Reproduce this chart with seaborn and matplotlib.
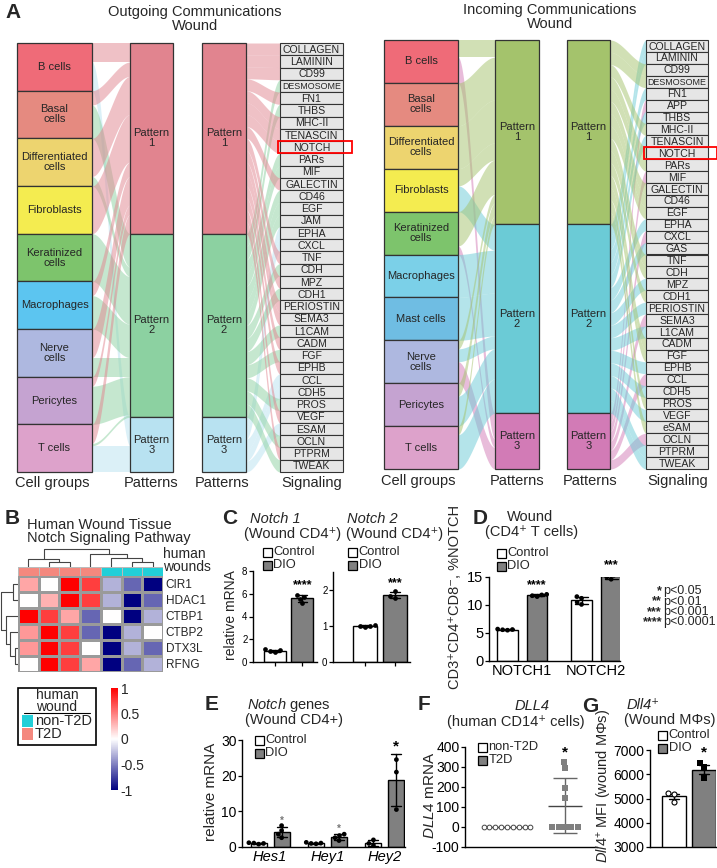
import numpy as np
import pandas as pd
import matplotlib
matplotlib.use("Agg")
import matplotlib.pyplot as plt
import seaborn as sns
from matplotlib.colors import LinearSegmentedColormap, ListedColormap
from matplotlib.patches import Rectangle

# -----------------------------------------
# Panel A data (CellChat river plots)
# -----------------------------------------
out_cells = ["B cells", "Basal\ncells", "Differentiated\ncells", "Fibroblasts",
             "Keratinized\ncells", "Macrophages", "Nerve\ncells", "Pericytes", "T cells"]
out_cell_colors = ["#EF6B78", "#E58A80", "#EDD46F", "#F4EC50", "#7DC46C",
                   "#5CC5F0", "#AEB8E0", "#C5A3D1", "#DDA2CB"]
out_pattern_colors = ["#E1848F", "#8CD1A1", "#B8E2F1"]
# share of each cell group sent to pattern 1, 2, 3
out_cell_to_pattern = [
    [0.4, 0.0, 0.6],
    [0.3, 0.7, 0.0],
    [0.8, 0.2, 0.0],
    [1.0, 0.0, 0.0],
    [0.0, 1.0, 0.0],
    [0.3, 0.7, 0.0],
    [0.6, 0.4, 0.0],
    [0.2, 0.8, 0.0],
    [0.4, 0.05, 0.55],
]
out_signals = ["COLLAGEN", "LAMININ", "CD99", "DESMOSOME", "FN1", "THBS", "MHC-II",
               "TENASCIN", "NOTCH", "PARs", "MIF", "GALECTIN", "CD46", "EGF", "JAM",
               "EPHA", "CXCL", "TNF", "CDH", "MPZ", "CDH1", "PERIOSTIN", "SEMA3",
               "L1CAM", "CADM", "FGF", "EPHB", "CCL", "CDH5", "PROS", "VEGF", "ESAM",
               "OCLN", "PTPRM", "TWEAK"]
out_signal_pattern = [1, 1, 1, 2, 1, 2, 1, 1, 1, 2, 2, 1, 2, 2, 2, 3, 3, 1, 2, 1,
                      2, 1, 1, 2, 1, 2, 1, 3, 3, 2, 1, 3, 2, 1, 2]

in_cells = ["B cells", "Basal\ncells", "Differentiated\ncells", "Fibroblasts",
            "Keratinized\ncells", "Macrophages", "Mast cells", "Nerve\ncells",
            "Pericytes", "T cells"]
in_cell_colors = ["#EF6B78", "#E58A80", "#EDD46F", "#F4EC50", "#7DC46C",
                  "#7BD0E8", "#6FBDE3", "#AEB8E0", "#C5A3D1", "#DDA2CB"]
in_pattern_colors = ["#A4C36C", "#6BCBD6", "#D27BB6"]
in_cell_to_pattern = [
    [0.4, 0.0, 0.6],
    [1.0, 0.0, 0.0],
    [1.0, 0.0, 0.0],
    [0.4, 0.6, 0.0],
    [0.8, 0.0, 0.2],
    [0.0, 1.0, 0.0],
    [0.0, 1.0, 0.0],
    [0.2, 0.3, 0.5],
    [0.3, 0.7, 0.0],
    [0.2, 0.8, 0.0],
]
in_signals = ["COLLAGEN", "LAMININ", "CD99", "DESMOSOME", "FN1", "APP", "THBS",
              "MHC-II", "TENASCIN", "NOTCH", "PARs", "MIF", "GALECTIN", "CD46", "EGF",
              "EPHA", "CXCL", "GAS", "TNF", "CDH", "MPZ", "CDH1", "PERIOSTIN", "SEMA3",
              "L1CAM", "CADM", "FGF", "EPHB", "CCL", "CDH5", "PROS", "VEGF", "eSAM",
              "OCLN", "PTPRM", "TWEAK"]
in_signal_pattern = [2, 2, 1, 1, 2, 3, 2, 1, 2, 1, 1, 3, 1, 1, 1, 2, 3, 2, 1, 1,
                     2, 1, 2, 3, 2, 1, 1, 2, 3, 2, 1, 2, 1, 3, 2, 2]

# -----------------------------------------
# Panel B data (heatmap)
# -----------------------------------------
hm_genes = ["CIR1", "HDAC1", "CTBP1", "CTBP2", "DTX3L", "RFNG"]
hm_groups = ["T2D", "T2D", "T2D", "T2D", "non-T2D", "non-T2D", "non-T2D"]
hm_values = [
    [0.35, 0.0, 1.0, 0.75, -0.3, -0.6, -1.0],
    [0.0, 0.3, 1.0, 0.75, -0.3, -1.0, -0.6],
    [1.0, 0.75, 0.35, -0.6, 0.0, -1.0, -0.3],
    [0.4, 1.0, 0.75, -0.6, -1.0, -0.3, 0.0],
    [0.4, 1.0, 0.75, 0.0, -1.0, -0.3, -0.6],
    [0.0, 1.0, 0.75, 0.35, -1.0, -0.6, -0.3],
]
cbar_ticks = [1, 0.5, 0, -0.5, -1]
cbar_labels = ["1", "0.5", "0", "-0.5", "-1"]
# linkage: (child a, child b, height) ; new node ids start after leaves
col_merges = [(1, 2, 5), (5, 6, 5), (0, 7, 8), (4, 8, 9), (3, 10, 13), (9, 11, 18)]
row_merges = [(0, 1, 5), (4, 5, 3), (3, 7, 7), (2, 8, 11), (6, 9, 16)]

# -----------------------------------------
# Panels C-G data
# -----------------------------------------
groups = ["Control", "DIO"]
notch1_ctrl = [0.9, 0.97, 1.03, 1.1]
notch1_dio = [5.2, 5.55, 5.75, 5.9]
notch2_ctrl = [0.96, 0.99, 1.01, 1.03]
notch2_dio = [1.79, 1.83, 1.96]

d_genes = ["NOTCH1", "NOTCH2"]
notch1_pct_ctrl = [5.5, 5.58, 5.62, 5.7]
notch1_pct_dio = [11.5, 11.65, 11.8, 11.9]
notch2_pct_ctrl = [10.1, 10.5, 11.2, 11.5]
notch2_pct_dio = [14.6, 15.0, 15.3, 15.5]

e_genes = ["Hes1", "Hey1", "Hey2"]
hes1_ctrl = [0.8, 1.0, 1.1, 1.2]
hes1_dio = [2.6, 3.6, 4.6, 6.0]
hey1_ctrl = [0.9, 1.1, 1.3, 1.0]
hey1_dio = [1.8, 2.6, 3.2, 3.6]
hey2_ctrl = [0.5, 1.0, 2.0]
hey2_dio = [24.5, 21.0, 10.5]

f_groups = ["non-T2D", "T2D"]
dll4_nont2d = [0, 0, 0, 0, 0, 0, 0, 0, 0]
dll4_t2d = [0, 0, 0, 0, 0, 145, 195, 295, 325]

dll4_mfi_ctrl = [5180, 5210, 4870]
dll4_mfi_dio = [6450, 6280, 5830]

bar_pal = {"Control": "white", "DIO": "#808080", "non-T2D": "white", "T2D": "#808080"}

# -----------------------------------------
# Style
# -----------------------------------------
sns.set_style("ticks")
plt.rcParams["font.family"] = ["Liberation Sans", "DejaVu Sans"]
plt.rcParams["mathtext.fontset"] = "custom"
plt.rcParams["mathtext.rm"] = "Liberation Sans"
plt.rcParams["mathtext.it"] = "Liberation Sans:italic"
plt.rcParams["axes.unicode_minus"] = False

W, H = 717, 868
fig = plt.figure(figsize=(W / 100, H / 100), dpi=100)


def add_ax(x0, y0, x1, y1):
    ax = fig.add_axes([x0 / W, 1 - y1 / H, (x1 - x0) / W, (y1 - y0) / H])
    ax.patch.set_alpha(0)
    return ax


ov = fig.add_axes([0, 0, 1, 1], zorder=10)
ov.set_xlim(0, W)
ov.set_ylim(H, 0)
ov.axis("off")


def txt(x, y, s, fs=10.5, **kw):
    ov.text(x, y, s, fontsize=fs, va="center", **kw)


# -----------------------------------------
# Panel A
# -----------------------------------------
def band(x0, x1, a0, a1, b0, b1, color):
    t = np.linspace(0, 1, 50)
    s = t * t * (3 - 2 * t)
    ov.fill_between(x0 + (x1 - x0) * t, a0 + (b0 - a0) * s, a1 + (b1 - a1) * s,
                    color=color, alpha=0.5, lw=0, zorder=1)


def sankey(cells, cell_colors, shares, pat_colors, signals, sig_pat, xs, y0, y1):
    cx0, cx1, px0, px1, qx0, qx1, sx0, sx1 = xs
    shares = np.array(shares, float)
    n = len(cells)
    span = y1 - y0
    ch = span / n
    tot = shares.sum(axis=0)
    ph = tot / tot.sum() * span
    ptop = y0 + np.concatenate([[0], np.cumsum(ph)[:-1]])
    fill = ptop.copy()
    for i in range(n):
        y = y0 + i * ch
        for j in range(3):
            h = ch * shares[i, j]
            if h <= 0:
                continue
            band(cx1, px0, y, y + h, fill[j], fill[j] + h, pat_colors[j])
            y += h
            fill[j] += h
    sp = np.array(sig_pat) - 1
    counts = np.bincount(sp, minlength=3)
    sh = span / len(signals)
    fill = ptop.copy()
    for k, j in enumerate(sp):
        h = ph[j] / counts[j]
        band(qx1, sx0, fill[j], fill[j] + h, y0 + k * sh, y0 + (k + 1) * sh, pat_colors[j])
        fill[j] += h
    for i, (name, col) in enumerate(zip(cells, cell_colors)):
        ov.add_patch(Rectangle((cx0, y0 + i * ch), cx1 - cx0, ch, fc=col, ec="#333333", lw=0.9, zorder=2))
        ov.text((cx0 + cx1) / 2, y0 + (i + 0.5) * ch, name, ha="center", va="center",
                fontsize=8, linespacing=1.0, zorder=3)
    for bx0, bx1 in [(px0, px1), (qx0, qx1)]:
        for j in range(3):
            ov.add_patch(Rectangle((bx0, ptop[j]), bx1 - bx0, ph[j], fc=pat_colors[j],
                                   ec="#333333", lw=0.9, zorder=2))
            ov.text((bx0 + bx1) / 2, ptop[j] + ph[j] / 2, f"Pattern\n{j + 1}", ha="center",
                    va="center", fontsize=8, linespacing=1.0, zorder=3)
    for k, name in enumerate(signals):
        ov.add_patch(Rectangle((sx0, y0 + k * sh), sx1 - sx0, sh, fc="#E6E6E6",
                               ec="#333333", lw=0.8, zorder=2))
        fs = 6.4 if name == "DESMOSOME" else 7.6
        ov.text((sx0 + sx1) / 2, y0 + (k + 0.55) * sh, name, ha="center", va="center",
                fontsize=fs, zorder=3)
        if name == "NOTCH":
            ov.add_patch(Rectangle((sx0 - 2, y0 + k * sh), sx1 - sx0 + 11, sh, fc="none",
                                   ec="red", lw=1.3, zorder=4))


sankey(out_cells, out_cell_colors, out_cell_to_pattern, out_pattern_colors,
       out_signals, out_signal_pattern, (17, 92, 130, 173, 202, 246, 280, 343), 43, 472)
sankey(in_cells, in_cell_colors, in_cell_to_pattern, in_pattern_colors,
       in_signals, in_signal_pattern, (384, 458, 495, 539, 567, 610, 646, 708), 40, 469)

txt(5, 12, "A", fs=15, fontweight="heavy")
ov.text(195, 5, "Outgoing Communications\nWound", ha="center", va="top", fontsize=10.5, linespacing=1.0)
ov.text(550, 3, "Incoming Communications\nWound", ha="center", va="top", fontsize=10.5, linespacing=1.0)
for x, s in zip([52, 151, 222, 312], ["Cell groups", "Patterns", "Patterns", "Signaling"]):
    txt(x, 483, s, ha="center")
for x, s in zip([418, 517, 590, 678], ["Cell groups", "Patterns", "Patterns", "Signaling"]):
    txt(x, 481, s, ha="center")

# -----------------------------------------
# Panel B
# -----------------------------------------
txt(5, 519, "B", fs=15, fontweight="heavy")
txt(27, 525, "Human Wound Tissue")
txt(27, 538, "Notch Signaling Pathway")
txt(163, 554, "human", fs=10)
txt(163, 567, "wounds", fs=10)

cmap = LinearSegmentedColormap.from_list("bwr2", ["#000080", "#FFFFFF", "#FF0000"])
ax_hm = add_ax(18, 576, 163, 672)
cax = add_ax(111, 688, 118, 790)
sns.heatmap(pd.DataFrame(hm_values, index=hm_genes), cmap=cmap, vmin=-1, vmax=1,
            linewidths=0.8, linecolor="#9A9A9A", xticklabels=False, yticklabels=hm_genes,
            cbar_ax=cax, cbar_kws={"ticks": cbar_ticks}, ax=ax_hm)
ax_hm.yaxis.tick_right()
ax_hm.tick_params(axis="y", length=0, labelsize=8.5, rotation=0, pad=2)
ax_hm.set_ylabel("")
cax.set_yticks(cbar_ticks)
cax.set_yticklabels(cbar_labels)
cax.tick_params(length=0, labelsize=10, pad=2)

ax_ann = add_ax(18, 567, 163, 576)
sns.heatmap([[1 if g == "T2D" else 0 for g in hm_groups]], cmap=ListedColormap(["#22CFD8", "#F4887E"]),
            vmin=0, vmax=1, cbar=False, xticklabels=False, yticklabels=False,
            linewidths=0.5, linecolor="#BBBBBB", ax=ax_ann)


def dendro(ax, merges, n, side):
    pos = {i: i + 0.5 for i in range(n)}
    hgt = {i: 0.0 for i in range(n)}
    for k, (a, b, h) in enumerate(merges):
        xs = [pos[a], pos[a], pos[b], pos[b]]
        ys = [hgt[a], h, h, hgt[b]]
        if side == "top":
            ax.plot(xs, ys, color="#444444", lw=0.8)
        else:
            ax.plot(ys, xs, color="#444444", lw=0.8)
        pos[n + k] = (pos[a] + pos[b]) / 2
        hgt[n + k] = h
    top = max(m[2] for m in merges)
    if side == "top":
        ax.set_xlim(0, n)
        ax.set_ylim(0, top + 0.5)
    else:
        ax.set_ylim(n, 0)
        ax.set_xlim(top + 0.5, 0)
    ax.axis("off")


dendro(add_ax(18, 548, 163, 567), col_merges, 7, "top")
dendro(add_ax(0, 576, 18, 672), row_merges, 6, "left")

# legend box for annotation
ov.add_patch(Rectangle((18, 688), 78, 57, fc="none", ec="black", lw=1.2))
txt(57, 701, "human\nwound", fs=10, ha="center", linespacing=0.8)
ov.plot([24, 90], [713, 713], color="black", lw=0.8)
for yy, lab, col in [(721, "non-T2D", "#22CFD8"), (734, "T2D", "#F4887E")]:
    ov.add_patch(Rectangle((22, yy - 6), 11, 12, fc=col, ec="none"))
    txt(35, yy, lab)


# -----------------------------------------
# Helpers for bar panels
# -----------------------------------------
def style(ax, ylim, yticks, fs, xlim, xlabels=None, xfs=10.5, xital=False):
    ax.set_ylim(*ylim)
    ax.set_yticks(yticks)
    ax.set_xlim(*xlim)
    sns.despine(ax=ax)
    for s in ["left", "bottom"]:
        ax.spines[s].set_linewidth(1)
        ax.spines[s].set_color("black")
    ax.tick_params(axis="y", labelsize=fs, length=3, width=0.9, pad=1, colors="black")
    ax.tick_params(axis="x", length=3, width=0.9, colors="black", labelsize=xfs, pad=2)
    if xlabels is None:
        ax.set_xticklabels([])
    else:
        ax.set_xticklabels(xlabels, fontstyle="italic" if xital else "normal")
    ax.set_xlabel("")
    ax.set_ylabel("")


def two_bars(ax, ctrl, dio, err="sd", pts=True):
    df = pd.DataFrame({"group": ["Control"] * len(ctrl) + ["DIO"] * len(dio), "val": ctrl + dio})
    sns.barplot(data=df, x="group", y="val", hue="group", order=groups, palette=bar_pal,
                edgecolor="black", linewidth=1, errorbar=err, capsize=0.35,
                err_kws={"color": "black", "linewidth": 1}, legend=False, ax=ax)
    if pts:
        sns.swarmplot(data=df, x="group", y="val", order=groups, color="black", size=3.4, ax=ax)
    return df


def grouped_bars(ax, genes, ctrl_lists, dio_lists):
    rows = []
    for g, c, d in zip(genes, ctrl_lists, dio_lists):
        rows += [(g, "Control", v) for v in c] + [(g, "DIO", v) for v in d]
    df = pd.DataFrame(rows, columns=["gene", "group", "val"])
    sns.barplot(data=df, x="gene", y="val", hue="group", hue_order=groups, palette=bar_pal,
                width=0.8, gap=0.3, edgecolor="black", linewidth=1, errorbar="sd",
                capsize=0.35, err_kws={"color": "black", "linewidth": 1}, legend=False, ax=ax)
    sns.swarmplot(data=df, x="gene", y="val", hue="group", hue_order=groups,
                  palette={"Control": "black", "DIO": "black"}, dodge=True, size=3.4,
                  legend=False, ax=ax)
    return df


def star(ax, x, y, s, fs=10, color="black"):
    ax.text(x, y, s, ha="center", va="bottom", fontsize=fs, fontweight="bold", color=color, clip_on=False)


def box_legend(x, y, labels, fs=9.3, dy=13):
    for k, lab in enumerate(labels):
        ov.add_patch(Rectangle((x, y + k * dy - 4.5), 9, 9, fc=bar_pal[lab], ec="black", lw=0.9))
        txt(x + 10.5, y + k * dy, lab, fs=fs)


def top_of(vals):
    return np.mean(vals) + np.std(vals, ddof=1)


# -----------------------------------------
# Panel C
# -----------------------------------------
txt(222, 519, "C", fs=15, fontweight="heavy")
txt(275, 519, "Notch 1", ha="center", fontstyle="italic")
txt(293, 534, "(Wound CD4\u207a)", ha="center")
txt(372, 519, "Notch 2", ha="center", fontstyle="italic")
txt(395, 534, "(Wound CD4\u207a)", ha="center")
box_legend(263, 552, groups)
box_legend(348, 552, groups)
txt(231, 615, "relative mRNA", fs=10, ha="center", rotation=90)

ax_c1 = add_ax(253, 571, 317, 662)
two_bars(ax_c1, notch1_ctrl, notch1_dio)
style(ax_c1, (0, 8), [0, 2, 4, 6, 8], 7, (-0.8, 1.53))
star(ax_c1, 1, top_of(notch1_dio) + 0.35, "****", fs=9)

ax_c2 = add_ax(333, 572, 410, 662)
two_bars(ax_c2, notch2_ctrl, notch2_dio)
style(ax_c2, (0, 2.5), [0, 1, 2], 7, (-1.07, 1.5))
star(ax_c2, 1, top_of(notch2_dio) + 0.08, "***", fs=9)

# -----------------------------------------
# Panel D
# -----------------------------------------
txt(473, 519, "D", fs=15, fontweight="heavy")
txt(530, 517, "Wound", ha="center")
txt(532, 532, "(CD4\u207a T cells)", ha="center")
box_legend(497, 553, groups)
txt(455, 597, "CD3\u207aCD4\u207aCD8\u207b, %NOTCH", fs=10.5, ha="center", rotation=90)
for k, (st, pv) in enumerate(zip(["*", "**", "***", "****"],
                                 ["p<0.05", "p<0.01", "p<0.001", "p<0.0001"])):
    txt(662, 591 + k * 10.5, st, fs=9, ha="right", fontweight="bold")
    txt(663, 591 + k * 10.5, pv, fs=9)

ax_d = add_ax(489, 577, 620, 661)
grouped_bars(ax_d, d_genes, [notch1_pct_ctrl, notch2_pct_ctrl], [notch1_pct_dio, notch2_pct_dio])
style(ax_d, (0, 15), [0, 5, 10, 15], 10.5, (-0.45, 1.32), xlabels=d_genes)
ax_d.tick_params(axis="x", length=0)
star(ax_d, 0.2, top_of(notch1_pct_dio) + 0.6, "****", fs=9)
star(ax_d, 1.2, top_of(notch2_pct_dio) + 0.6, "***", fs=9)

# -----------------------------------------
# Panel E
# -----------------------------------------
txt(205, 705, "E", fs=15, fontweight="heavy")
txt(289, 705, r"$\mathit{Notch}$ genes", ha="center")
txt(294, 720, "(Wound CD4+)", ha="center")
box_legend(255, 740, groups)
txt(211, 792, "relative mRNA", fs=11, ha="center", rotation=90)

ax_e = add_ax(242, 740, 405, 847)
grouped_bars(ax_e, e_genes, [hes1_ctrl, hey1_ctrl, hey2_ctrl], [hes1_dio, hey1_dio, hey2_dio])
style(ax_e, (0, 30), [0, 10, 20, 30], 10, (-0.49, 2.35), xlabels=e_genes, xital=True)
ax_e.tick_params(axis="x", length=0)
star(ax_e, 0.2, top_of(hes1_dio) + 0.2, "*", fs=7, color="#777777")
star(ax_e, 1.2, top_of(hey1_dio) + 0.2, "*", fs=7, color="#777777")
star(ax_e, 2.2, top_of(hey2_dio) + 0.3, "*", fs=11)

# -----------------------------------------
# Panel F
# -----------------------------------------
txt(418, 705, "F", fs=15, fontweight="heavy")
txt(532, 706, "DLL4", ha="center", fontstyle="italic")
txt(516, 722, "(human CD14\u207a cells)", ha="center")
box_legend(478, 747, f_groups)
txt(430, 795, r"$\mathit{DLL4}$ mRNA", fs=11, ha="center", rotation=90)

ax_f = add_ax(465, 747, 597, 847)
df_f = pd.DataFrame({"group": ["non-T2D"] * len(dll4_nont2d) + ["T2D"] * len(dll4_t2d),
                     "val": dll4_nont2d + dll4_t2d})
stats = df_f.groupby("group")["val"].agg(["mean", "std"])
for k, (g, hw) in enumerate(zip(f_groups, [0.42, 0.3])):
    m, s = stats.loc[g, "mean"], stats.loc[g, "std"]
    ax_f.hlines(m, k - hw, k + hw, color="#444444", lw=1)
    if s > 0:
        ax_f.vlines(k, m - s, m + s, color="#666666", lw=1)
        ax_f.hlines([m - s, m + s], k - 0.2, k + 0.2, color="#666666", lw=1)
sns.swarmplot(data=df_f[df_f.group == "non-T2D"], x="group", y="val", order=f_groups,
              marker="o", color="white", edgecolor="#444444", linewidth=0.7, size=3.4, ax=ax_f)
sns.swarmplot(data=df_f[df_f.group == "T2D"], x="group", y="val", order=f_groups,
              marker="s", color="#808080", size=4.4, ax=ax_f)
style(ax_f, (-100, 400), [-100, 0, 100, 200, 300, 400], 10, (-0.72, 1.55))
ax_f.tick_params(axis="x", length=0)
star(ax_f, 1, stats.loc["T2D", "mean"] + stats.loc["T2D", "std"] + 95, "*", fs=11)

# -----------------------------------------
# Panel G
# -----------------------------------------
txt(582, 707, "G", fs=15, fontweight="heavy")
txt(643, 705, "Dll4\u207a", ha="center", fontstyle="italic")
txt(670, 720, "(Wound M\u03a6s)", ha="center")
box_legend(658, 735, groups, dy=13)
txt(604, 786, "$\\mathit{Dll4}^{+}$ MFI (wound M\u03a6s)", fs=10.5, ha="center", rotation=90)

ax_g = add_ax(650, 750, 716, 847)
df_g = two_bars(ax_g, dll4_mfi_ctrl, dll4_mfi_dio, err="se", pts=False)
sns.swarmplot(data=df_g[df_g.group == "Control"], x="group", y="val", order=groups,
              marker="o", color="white", edgecolor="black", linewidth=0.8, size=3.6, ax=ax_g)
sns.swarmplot(data=df_g[df_g.group == "DIO"], x="group", y="val", order=groups,
              marker="s", color="black", size=4.2, ax=ax_g)
style(ax_g, (3000, 7000), [3000, 4000, 5000, 6000, 7000], 10, (-0.8, 1.4))
ax_g.tick_params(axis="x", length=0)
star(ax_g, 1, 6620, "*", fs=11)

plt.savefig("out.png", dpi=100)
